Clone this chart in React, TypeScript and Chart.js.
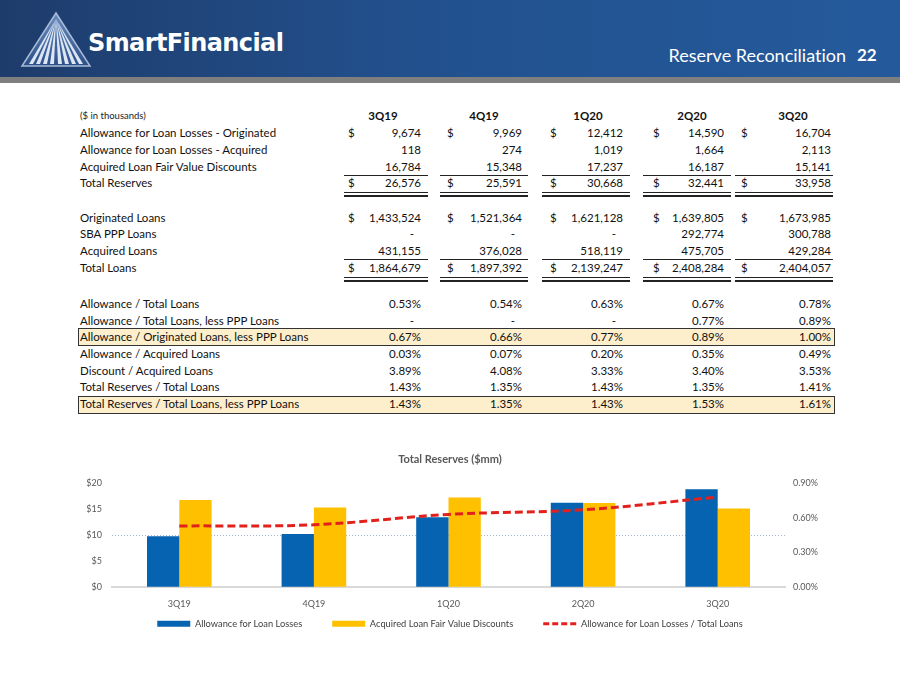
import React, { useEffect, useRef } from 'react';
import { Chart, registerables } from 'chart.js';

Chart.register(...registerables);

// ---------- data ----------
const periods = ['3Q19', '4Q19', '1Q20', '2Q20', '3Q20'];

const allowanceOriginated = [9674, 9969, 12412, 14590, 16704];
const allowanceAcquired = [118, 274, 1019, 1664, 2113];
const fairValueDiscounts = [16784, 15348, 17237, 16187, 15141];
const totalReserves = [26576, 25591, 30668, 32441, 33958];

const originatedLoans = [1433524, 1521364, 1621128, 1639805, 1673985];
const pppLoans: (number | null)[] = [null, null, null, 292774, 300788];
const acquiredLoans = [431155, 376028, 518119, 475705, 429284];
const totalLoans = [1864679, 1897392, 2139247, 2408284, 2404057];

const allowanceTotalLoans = [0.53, 0.54, 0.63, 0.67, 0.78];
const allowanceTotalLessPPP: (number | null)[] = [null, null, null, 0.77, 0.89];
const allowanceOrigLessPPP = [0.67, 0.66, 0.77, 0.89, 1.0];
const allowanceAcquiredPct = [0.03, 0.07, 0.2, 0.35, 0.49];
const discountAcquiredPct = [3.89, 4.08, 3.33, 3.4, 3.53];
const reservesTotalLoans = [1.43, 1.35, 1.43, 1.35, 1.41];
const reservesTotalLessPPP = [1.43, 1.35, 1.43, 1.53, 1.61];

// chart series ($mm)
const allowanceMM = [9.792, 10.243, 13.431, 16.254, 18.817];
const discountsMM = [16.784, 15.348, 17.237, 16.187, 15.141];
const leftTicks = [0, 5, 10, 15, 20];
const rightTicks = [0, 0.3, 0.6, 0.9];

// ---------- layout ----------
const FONT = "Lato, 'Open Sans', sans-serif";
const colLine = [
  [344, 428],
  [440, 528],
  [542, 630],
  [643, 731],
  [735, 833],
];
const dollarX = [348, 447, 550, 653, 741];
const valueRight = [421, 522, 623, 724, 831];
const headerCenter = [383, 484, 588, 692, 793];

type Kind = 'num' | 'pct';

function fmt(v: number | null, kind: Kind) {
  if (v === null) return '-';
  if (kind === 'pct') return v.toFixed(2) + '%';
  return v.toLocaleString('en-US');
}

function Row(props: { yc: number; label: string; values: (number | null)[]; kind: Kind; dollar?: boolean }) {
  const { yc, label, values, kind, dollar } = props;
  const top = yc - 8;
  const base: React.CSSProperties = {
    position: 'absolute',
    top,
    height: 16,
    lineHeight: '16px',
    fontSize: 11.5,
    color: '#111',
    whiteSpace: 'nowrap',
  };
  return (
    <>
      <div style={{ ...base, left: 80 }}>{label}</div>
      {values.map((v, i) => (
        <React.Fragment key={i}>
          {dollar && <div style={{ ...base, left: dollarX[i] }}>$</div>}
          <div
            style={{
              ...base,
              left: valueRight[i] - 150,
              width: v === null ? 143 : 150,
              textAlign: 'right',
            }}
          >
            {fmt(v, kind)}
          </div>
        </React.Fragment>
      ))}
    </>
  );
}

function SingleLines({ y }: { y: number }) {
  return (
    <>
      {colLine.map(([a, b], i) => (
        <div key={i} style={{ position: 'absolute', left: a, width: b - a, top: y, height: 1, background: '#222' }} />
      ))}
    </>
  );
}

function DoubleLines({ y }: { y: number }) {
  return (
    <>
      {colLine.map(([a, b], i) => (
        <React.Fragment key={i}>
          <div style={{ position: 'absolute', left: a, width: b - a, top: y, height: 1, background: '#222' }} />
          <div style={{ position: 'absolute', left: a, width: b - a, top: y + 3, height: 2, background: '#222' }} />
        </React.Fragment>
      ))}
    </>
  );
}

function HighlightBox({ top }: { top: number }) {
  return (
    <div
      style={{
        position: 'absolute',
        left: 78,
        top,
        width: 755,
        height: 16,
        background: '#FDEECC',
        border: '1px solid #333',
      }}
    />
  );
}

function Logo() {
  const rays = [13, 20, 27, 34, 42, 49, 56, 63];
  return (
    <svg style={{ position: 'absolute', left: 18, top: 10 }} width={78} height={60} viewBox="0 0 78 60">
      <defs>
        <linearGradient id="triG" x1="0" y1="0" x2="0" y2="1">
          <stop offset="0" stopColor="#6a8cc0" />
          <stop offset="1" stopColor="#2b4f88" />
        </linearGradient>
      </defs>
      <polygon points="38,3 4,56 72,56" fill="url(#triG)" stroke="#a9bbd6" strokeWidth={1.5} />
      {rays.map((x, i) => (
        <polygon key={i} points={`38,9 ${x - 2},54 ${x + 2},54`} fill="#dde7f4" />
      ))}
    </svg>
  );
}

export default function App() {
  const canvasRef = useRef<HTMLCanvasElement>(null);

  useEffect(() => {
    document.body.style.margin = '0';
    Chart.defaults.font.family = FONT;
    const canvas = canvasRef.current;
    if (!canvas) return;
    const chart = new Chart(canvas, {
      type: 'bar',
      data: {
        labels: periods,
        datasets: [
          {
            type: 'bar',
            label: 'Allowance for Loan Losses',
            data: allowanceMM,
            backgroundColor: '#0563B1',
            borderWidth: 0,
            yAxisID: 'y',
            order: 2,
            categoryPercentage: 0.48,
            barPercentage: 1,
          },
          {
            type: 'bar',
            label: 'Acquired Loan Fair Value Discounts',
            data: discountsMM,
            backgroundColor: '#FFC000',
            borderWidth: 0,
            yAxisID: 'y',
            order: 2,
            categoryPercentage: 0.48,
            barPercentage: 1,
          },
          {
            type: 'line',
            label: 'Allowance for Loan Losses / Total Loans',
            data: allowanceTotalLoans,
            borderColor: '#E3211C',
            backgroundColor: '#E3211C',
            borderWidth: 3,
            borderDash: [8, 4],
            pointRadius: 0,
            tension: 0.35,
            fill: false,
            yAxisID: 'y1',
            order: 1,
          },
        ] as any,
      },
      options: {
        responsive: false,
        animation: false,
        layout: { padding: { left: 0, right: 0, top: 0, bottom: 1.5 } },
        plugins: {
          title: {
            display: true,
            text: 'Total Reserves ($mm)',
            color: '#595959',
            font: { size: 11, weight: 'bold', family: FONT },
            padding: { top: 8, bottom: 17 },
          },
          legend: {
            position: 'bottom',
            labels: {
              usePointStyle: true,
              pointStyleWidth: 33,
              boxWidth: 33,
              boxHeight: 6,
              padding: 30,
              color: '#404040',
              font: { size: 9.3, family: FONT },
              generateLabels: (ch: any) => {
                const items = (Chart.defaults.plugins.legend.labels as any).generateLabels(ch);
                items.forEach((it: any) => {
                  if (it.datasetIndex === 2) {
                    it.pointStyle = 'line';
                    it.lineDash = [6, 3];
                    it.lineWidth = 3;
                    it.strokeStyle = '#E3211C';
                  } else {
                    it.pointStyle = 'rect';
                    it.lineWidth = 0;
                  }
                });
                return items.sort((a: any, b: any) => a.datasetIndex - b.datasetIndex);
              },
            },
          },
          tooltip: { enabled: false },
        },
        scales: {
          x: {
            grid: { display: false, drawTicks: false },
            border: { display: true, color: '#D9D9D9', width: 2 },
            ticks: { color: '#595959', font: { size: 9 }, mirror: true, padding: -22, maxRotation: 0, autoSkip: false },
            afterFit: (s: any) => {
              s.height = 2;
            },
          },
          y: {
            position: 'left',
            min: leftTicks[0],
            max: leftTicks[leftTicks.length - 1],
            afterBuildTicks: (s: any) => {
              s.ticks = leftTicks.map((v) => ({ value: v }));
            },
            ticks: {
              callback: (v: any) => '$' + v,
              color: '#595959',
              font: { size: 9 },
              padding: 10,
            },
            grid: {
              drawTicks: false,
              color: (c: any) => (c.tick && c.tick.value === 10 ? '#9FB6CE' : 'rgba(0,0,0,0)'),
              lineWidth: 1,
            },
            border: { display: false, dash: [1, 2] },
            afterFit: (s: any) => {
              s.width = 62;
            },
          },
          y1: {
            position: 'right',
            min: rightTicks[0],
            max: rightTicks[rightTicks.length - 1],
            afterBuildTicks: (s: any) => {
              s.ticks = rightTicks.map((v) => ({ value: v }));
            },
            ticks: {
              callback: (v: any) => Number(v).toFixed(2) + '%',
              color: '#595959',
              font: { size: 9 },
              padding: 8,
            },
            grid: { display: false, drawTicks: false },
            border: { display: false },
            afterFit: (s: any) => {
              s.width = 65;
            },
          },
        },
      } as any,
    });
    return () => chart.destroy();
  }, []);

  return (
    <div
      style={{
        position: 'absolute',
        left: 0,
        top: 0,
        width: 900,
        height: 675,
        background: '#fff',
        overflow: 'hidden',
        fontFamily: FONT,
        fontVariantLigatures: 'none',
      }}
    >
      {/* header */}
      <div
        style={{
          position: 'absolute',
          left: 0,
          top: 0,
          width: 900,
          height: 77,
          background: 'linear-gradient(to right, #1e3c6b 0%, #22508d 45%, #245a9c 100%)',
        }}
      />
      <div style={{ position: 'absolute', left: 0, top: 77, width: 900, height: 6, background: '#7F7F7F' }} />
      <Logo />
      <div
        style={{
          position: 'absolute',
          left: 88,
          top: 28,
          fontFamily: "'DejaVu Sans', sans-serif",
          fontWeight: 'bold',
          fontSize: 24,
          letterSpacing: -0.6,
          color: '#fff',
          lineHeight: '30px',
        }}
      >
        SmartFinancial
      </div>
      <div
        style={{
          position: 'absolute',
          right: 900 - 846,
          top: 44,
          fontSize: 18,
          color: '#fff',
          lineHeight: '22px',
          whiteSpace: 'nowrap',
        }}
      >
        Reserve Reconciliation
      </div>
      <div
        style={{
          position: 'absolute',
          left: 857,
          top: 44,
          fontSize: 17,
          fontWeight: 'bold',
          color: '#fff',
          lineHeight: '22px',
        }}
      >
        22
      </div>

      {/* table header */}
      <div style={{ position: 'absolute', left: 80, top: 108, height: 16, lineHeight: '16px', fontSize: 9.5, color: '#222' }}>
        ($ in thousands)
      </div>
      {periods.map((p, i) => (
        <div
          key={p}
          style={{
            position: 'absolute',
            left: headerCenter[i] - 40,
            width: 80,
            textAlign: 'center',
            top: 108,
            height: 16,
            lineHeight: '16px',
            fontSize: 11.5,
            fontWeight: 'bold',
            color: '#111',
          }}
        >
          {p}
        </div>
      ))}

      <Row yc={133} label="Allowance for Loan Losses - Originated" values={allowanceOriginated} kind="num" dollar />
      <Row yc={150} label="Allowance for Loan Losses - Acquired" values={allowanceAcquired} kind="num" />
      <Row yc={166.5} label="Acquired Loan Fair Value Discounts" values={fairValueDiscounts} kind="num" />
      <SingleLines y={174.5} />
      <Row yc={183} label="Total Reserves" values={totalReserves} kind="num" dollar />
      <DoubleLines y={191.5} />

      <Row yc={217.5} label="Originated Loans" values={originatedLoans} kind="num" dollar />
      <Row yc={234} label="SBA PPP Loans" values={pppLoans} kind="num" />
      <Row yc={251} label="Acquired Loans" values={acquiredLoans} kind="num" />
      <SingleLines y={259} />
      <Row yc={268} label="Total Loans" values={totalLoans} kind="num" dollar />
      <DoubleLines y={277} />

      <HighlightBox top={328} />
      <HighlightBox top={395.5} />
      <Row yc={303.5} label="Allowance / Total Loans" values={allowanceTotalLoans} kind="pct" />
      <Row yc={320.5} label="Allowance / Total Loans, less PPP Loans" values={allowanceTotalLessPPP} kind="pct" />
      <Row yc={337} label="Allowance / Originated Loans, less PPP Loans" values={allowanceOrigLessPPP} kind="pct" />
      <Row yc={354} label="Allowance / Acquired Loans" values={allowanceAcquiredPct} kind="pct" />
      <Row yc={370.5} label="Discount / Acquired Loans" values={discountAcquiredPct} kind="pct" />
      <Row yc={387} label="Total Reserves / Total Loans" values={reservesTotalLoans} kind="pct" />
      <Row yc={404} label="Total Reserves / Total Loans, less PPP Loans" values={reservesTotalLessPPP} kind="pct" />

      {/* chart */}
      <div style={{ position: 'absolute', left: 50, top: 445, width: 800, height: 195 }}>
        <canvas ref={canvasRef} width={800} height={195} style={{ width: 800, height: 195, display: 'block' }} />
      </div>
    </div>
  );
}
